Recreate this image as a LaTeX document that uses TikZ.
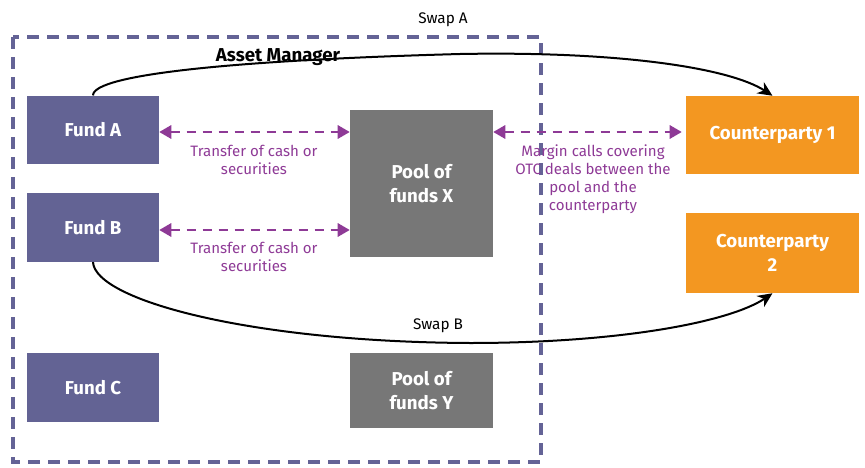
\documentclass[tikz,border=0pt]{standalone}
\usepackage{fontspec}
\setmainfont{Fira Sans}
\usetikzlibrary{arrows.meta}
\definecolor{fundblue}{RGB}{99,99,148}
\definecolor{poolgray}{RGB}{119,119,119}
\definecolor{cporange}{RGB}{243,151,33}
\definecolor{flowpurple}{RGB}{142,58,150}
\definecolor{frameblue}{RGB}{100,99,150}
\tikzset{
  x=0.75pt, y=-0.75pt,
  box/.style={draw=none, inner sep=0pt, align=center, text=white,
    font=\bfseries\fontsize{14}{18.5}\selectfont},
  fundbox/.style={box, fill=fundblue, minimum width=99pt, minimum height=51.5pt},
  poolbox/.style={box, fill=poolgray, minimum width=107.25pt},
  cpbox/.style={box, fill=cporange, minimum width=129.75pt},
  flow/.style={flowpurple, line width=1.6pt, dash pattern=on 7pt off 5pt,
    {Triangle[length=9pt,width=10pt]}-{Triangle[length=9pt,width=10pt]}},
  flowlabel/.style={text=flowpurple, align=center, inner sep=0pt,
    font=\fontsize{11.3}{13.5}\selectfont},
  swap/.style={black, line width=1.5pt, -{Stealth[length=11pt,width=10pt]}},
  swaplabel/.style={inner sep=0pt, font=\fontsize{11.5}{14}\selectfont},
}
\begin{document}
\begin{tikzpicture}
\useasboundingbox (0,0) rectangle (865,468);

% Asset manager frame
\draw[frameblue, line width=2.5pt, dash pattern=on 9pt off 6pt] (13,37) rectangle (541,462);
\node[inner sep=0pt, font=\bfseries\fontsize{14}{17}\selectfont] (am) at (278,57) {Asset Manager};

% Funds
\node[fundbox] (fa) at (93,130) {Fund A};
\node[fundbox] (fb) at (93,227.5) {Fund B};
\node[fundbox] (fc) at (93,387.5) {Fund C};

% Pools
\node[poolbox, minimum height=110.25pt] (px) at (421.5,183.5) {Pool of\\funds X};
\node[poolbox, minimum height=56.25pt] (py) at (421.5,390.5) {Pool of\\funds Y};

% Counterparties
\node[cpbox, minimum height=58.5pt] (c1) at (772.5,135) {Counterparty 1};
\node[cpbox, minimum height=60pt] (c2) at (772.5,253) {Counterparty\\2};

% Transfers of collateral
\draw[flow] (fa.east |- 0,132) -- (px.west |- 0,132);
\node[flowlabel] (la) at (254,160) {Transfer of cash or\\securities};
\draw[flow] (fb.east |- 0,230) -- (px.west |- 0,230);
\node[flowlabel] (lb) at (254,257) {Transfer of cash or\\securities};
\draw[flow] (px.east |- 0,132) -- ([xshift=-3pt]c1.west |- 0,132);
\node[flowlabel] (lm) at (593,179) {Margin calls covering\\OTC deals between the\\pool and the\\counterparty};

% Swaps
\draw[swap] (fa.north) .. controls (93,74) and (240,60) .. (460,54)
  .. controls (620,51) and (730,68) .. (c1.north);
\node[swaplabel] (sa) at (443,20) {Swap A};
\draw[swap] (fb.south) .. controls (95,300) and (250,342) .. (470,343)
  .. controls (620,343) and (730,322) .. (c2.south);
\node[swaplabel] (sb) at (438,326) {Swap B};
\end{tikzpicture}
\end{document}
